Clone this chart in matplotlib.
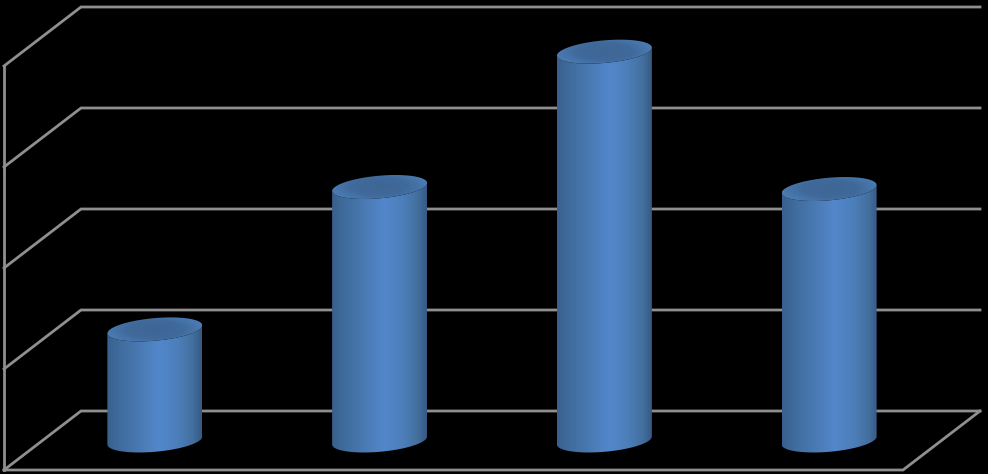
"""Pseudo-3D cylinder column chart on a black background."""
import matplotlib
matplotlib.use("Agg")
import matplotlib.pyplot as plt
from matplotlib.colors import LinearSegmentedColormap
from matplotlib.patches import Polygon
import numpy as np

# values, no labels are shown on the original
categories = [0, 1, 2, 3]
values = [1.10, 2.51, 3.85, 2.49]
grid_levels = [0, 1, 2, 3, 4]

# chart units per pixel: 224.75 px per category, 101 px per grid step
PX_X = 1 / 224.75
PX_Y = 1 / 101
DEPTH_X = 77 * PX_X
DEPTH_Y = 59 * PX_Y
BAR_HALF = 47.5 * PX_X
CAP_B = 11.3 * PX_Y
CAP_SHEAR = 4.0 * PX_Y

GRID = "#8f8f8f"
LINE_W = 2.0
body_cmap = LinearSegmentedColormap.from_list(
    "body",
    [(0.0, "#39608d"), (0.12, "#3f6b9c"), (0.3, "#4877ae"), (0.55, "#5287cb"),
     (0.75, "#4c7eb9"), (0.9, "#44709f"), (1.0, "#365a84")],
)
cap_cmap = LinearSegmentedColormap.from_list(
    "cap", [(0.0, "#3e6695"), (0.6, "#406a9b"), (1.0, "#4a7ab2")],
)

fig = plt.figure(figsize=(9.88, 4.74), dpi=100, facecolor="black")
ax = fig.add_axes([0, 0, 1, 1])
ax.set_facecolor("black")
ax.axis("off")

# walls and floor
for lev in grid_levels:
    ax.plot([0, DEPTH_X, 4 + DEPTH_X], [lev, lev + DEPTH_Y, lev + DEPTH_Y],
            color=GRID, lw=LINE_W, zorder=1, solid_joinstyle="miter")
ax.plot([0, 0], [0, grid_levels[-1]], color=GRID, lw=LINE_W, zorder=1)
ax.plot([0, 4, 4 + DEPTH_X], [0, 0, DEPTH_Y], color=GRID, lw=LINE_W, zorder=1,
        solid_joinstyle="miter")

t_front = np.linspace(np.pi, 2 * np.pi, 80)
t_all = np.linspace(0, 2 * np.pi, 160)
ramp = np.linspace(0, 1, 256).reshape(1, -1)
gx, gy = np.meshgrid(np.linspace(-1, 1, 120), np.linspace(-1, 1, 60))
cap_ramp = np.clip(np.hypot(gx, gy), 0, 1)

for cat, val in zip(categories, values):
    cx = cat + 0.5 + DEPTH_X / 2
    base = DEPTH_Y / 2
    top = val + DEPTH_Y / 2

    # front half of the base ellipse, then back along the top ellipse
    bx = cx + BAR_HALF * np.cos(t_front)
    by = base + CAP_B * np.sin(t_front) + CAP_SHEAR * np.cos(t_front)
    tx = bx[::-1]
    ty = top + CAP_B * np.sin(t_front[::-1]) + CAP_SHEAR * np.cos(t_front[::-1])
    body = Polygon(np.column_stack([np.r_[bx, tx], np.r_[by, ty]]),
                   closed=True, facecolor="none", edgecolor="none",
                   transform=ax.transData)
    ax.add_patch(body)
    im = ax.imshow(ramp, cmap=body_cmap, aspect="auto", zorder=2,
                   extent=[cx - BAR_HALF, cx + BAR_HALF, base - 0.3, top + 0.3],
                   interpolation="bilinear")
    im.set_clip_path(body)

    cap_x = cx + BAR_HALF * np.cos(t_all)
    cap_y = top + CAP_B * np.sin(t_all) + CAP_SHEAR * np.cos(t_all)
    cap = Polygon(np.column_stack([cap_x, cap_y]), closed=True,
                  facecolor="none", edgecolor="none", transform=ax.transData)
    ax.add_patch(cap)
    cap_h = CAP_B + CAP_SHEAR
    cap_im = ax.imshow(cap_ramp, cmap=cap_cmap, vmin=0, vmax=1, aspect="auto",
                       zorder=3, interpolation="bilinear",
                       extent=[cx - BAR_HALF, cx + BAR_HALF, top - cap_h, top + cap_h])
    cap_im.set_clip_path(cap)

ax.set_xlim(-4 * PX_X, 984 * PX_X)
ax.set_ylim(-4 * PX_Y, 470 * PX_Y)

fig.savefig("out.png", dpi=100, facecolor="black")
plt.close(fig)
